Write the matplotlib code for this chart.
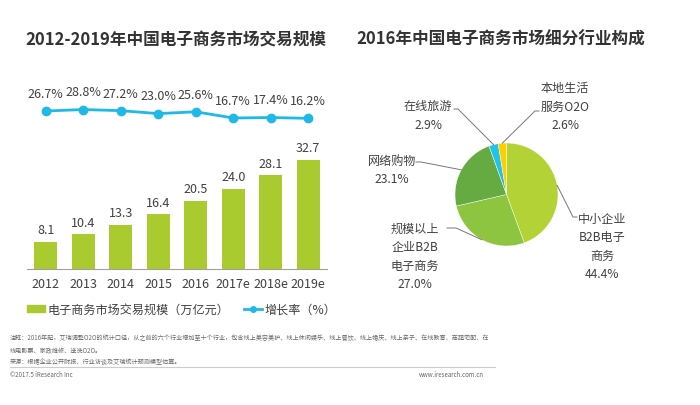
import numpy as np
import matplotlib
matplotlib.use("Agg")
import matplotlib.pyplot as plt
from matplotlib.lines import Line2D
from matplotlib.patches import Patch

plt.rcParams['font.family'] = ['Noto Sans CJK SC', 'DejaVu Sans']

# data
years = ['2012', '2013', '2014', '2015', '2016', '2017e', '2018e', '2019e']
scale = [8.1, 10.4, 13.3, 16.4, 20.5, 24.0, 28.1, 32.7]
growth = [26.7, 28.8, 27.2, 23.0, 25.6, 16.7, 17.4, 16.2]

segments = ['中小企业\nB2B电子\n商务', '规模以上\n企业B2B\n电子商务', '网络购物',
            '在线旅游', '本地生活\n服务O2O']
shares = [44.4, 27.0, 23.1, 2.9, 2.6]

W, H = 700, 406
BAR = '#a9cb2f'
LINE = '#1fb9e8'
TXT = '#404040'
pie_colors = ['#b3d235', '#8dc540', '#66aa42', '#22c3eb', '#fcd000']


def fig_box(x0, y0, x1, y1):
    """pixel box (top-left origin) -> add_axes rect"""
    return [x0 / W, 1 - y1 / H, (x1 - x0) / W, (y1 - y0) / H]


fig = plt.figure(figsize=(7, 4.06), dpi=100)
fig.patch.set_facecolor('white')

# titles
fig.text(176 / W, 1 - 40 / H, '2012-2019年中国电子商务市场交易规模', ha='center', va='center',
         fontsize=12, fontweight='bold', color='#333333')
fig.text(501 / W, 1 - 40 / H, '2016年中国电子商务市场细分行业构成', ha='center', va='center',
         fontsize=12, fontweight='bold', color='#333333')

# left: bars + growth line
ax = fig.add_axes(fig_box(27, 95, 327, 270))
x = np.arange(len(years))
bars = ax.bar(x, scale, width=0.62, color=BAR)
ax.set_xlim(-0.5, len(years) - 0.5)
ax.set_ylim(0, 52.5)
for b, v in zip(bars, scale):
    ax.annotate(f'{v:.1f}', (b.get_x() + b.get_width() / 2, v), xytext=(0, 4),
                textcoords='offset points', ha='center', va='bottom', fontsize=9, color=TXT)
ax.set_xticks(x)
ax.set_xticklabels(years, fontsize=9, color=TXT)
ax.tick_params(axis='x', length=0, pad=6)
ax.set_yticks([])
for s in ['top', 'right', 'left']:
    ax.spines[s].set_visible(False)
ax.spines['bottom'].set_color('#a0a0a0')
ax.patch.set_alpha(0)

ax2 = ax.twinx()
ax2.plot(x, growth, color=LINE, lw=2, marker='o', ms=6)
ax2.set_ylim(-199, 51)
for xi, g in zip(x, growth):
    ax2.annotate(f'{g:.1f}%', (xi, g), xytext=(0, 8), textcoords='offset points',
                 ha='center', va='bottom', fontsize=9, color=TXT)
ax2.set_yticks([])
for s in ax2.spines.values():
    s.set_visible(False)

handles = [Patch(color=BAR), Line2D([], [], color=LINE, lw=2, marker='o', ms=4)]
fig.legend(handles, ['电子商务市场交易规模（万亿元）', '增长率（%）'], loc='center',
           bbox_to_anchor=(182 / W, 1 - 310 / H), ncol=2, frameon=False, fontsize=8.7,
           handlelength=1.5, handleheight=0.5, handletextpad=0.2, columnspacing=1.2,
           labelcolor=TXT)

# right: pie
cx, cy, r = 506.5, 195.5, 51.5
axp = fig.add_axes(fig_box(cx - 100, cy - 100, cx + 100, cy + 100))
wedges, _ = axp.pie(shares, colors=pie_colors, startangle=90, counterclock=False,
                    wedgeprops=dict(linewidth=0.3, edgecolor='white'))
lim = 100 / r
axp.set_xlim(-lim, lim)
axp.set_ylim(-lim, lim)
axp.set_aspect('equal')
axp.axis('off')


def pd(px, py):
    return (px - cx) / r, -(py - cy) / r


label_pos = [(602, 247), (415, 257), (392, 170.5), (428, 116), (565, 107)]
elbows = [((573, 218), (577, 218)), ((456, 229), (447, 229)), ((421, 163), (416, 163)),
          ((458, 110), (454, 110)), ((535, 112), (539, 112))]
for w, name, pct, (lx, ly), (e1, e2) in zip(wedges, segments, shares, label_pos, elbows):
    ang = np.deg2rad((w.theta1 + w.theta2) / 2)
    p0 = (np.cos(ang), np.sin(ang))
    p1, p2 = pd(*e1), pd(*e2)
    axp.plot([p0[0], p1[0], p2[0]], [p0[1], p1[1], p2[1]], color='#777777', lw=0.7,
             clip_on=False)
    tx, ty = pd(lx, ly)
    axp.text(tx, ty, f'{name}\n{pct:.1f}%', ha='center', va='center', fontsize=8.7,
             color=TXT, linespacing=1.55)

# footer
note1 = ('注释：2016年起，艾瑞调整O2O的统计口径，从之前的六个行业增加至十个行业，包含线上美容美护、'
         '线上休闲娱乐、线上餐饮、线上婚庆、线上亲子、在线教育、商超宅配、在')
note2 = '线电影票、家政维修、送洗O2O。'
src = '来源：根据企业公开财报、行业访谈及艾瑞统计预测模型估算。'
foot = dict(fontsize=4.4, color='#666666', va='center', ha='left')
fig.text(10 / W, 1 - 338 / H, note1, **foot)
fig.text(10 / W, 1 - 351 / H, note2, **foot)
fig.text(10 / W, 1 - 362 / H, src, **foot)
fig.add_artist(Line2D([10 / W, 495 / W], [1 - 368 / H, 1 - 368 / H], color='#cccccc', lw=0.8))
fig.text(10 / W, 1 - 375 / H, '©2017.5 iResearch Inc', **foot)
fig.text(484 / W, 1 - 375 / H, 'www.iresearch.com.cn', fontsize=4.4, color='#666666',
         va='center', ha='right')

fig.savefig('out.png', dpi=100)
